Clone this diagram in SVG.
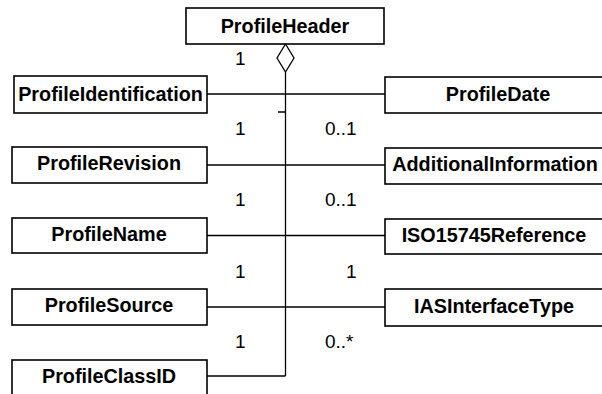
<svg xmlns="http://www.w3.org/2000/svg" width="602" height="394" viewBox="0 0 602 394">
<style>
.box{fill:#fff;stroke:#000;stroke-width:1.6}
.t{font-family:"Liberation Sans",Arial,sans-serif;font-weight:bold;font-size:19.8px;text-anchor:middle;fill:#000}
.m{font-family:"Liberation Sans",Arial,sans-serif;font-size:19px;fill:#000}
.ln{stroke:#000;stroke-width:1.3;fill:none}
</style>
<rect width="602" height="394" fill="#fff"/>
<g id="connectors">
<path class="ln" d="M285.5 72 V376 M207 94 H385 M207 165 H385 M207 235.5 H385 M207 307 H385 M207 376 H285.5 M278 112 H285.5"/>
<polygon points="285.5,44 294,58 285.5,72 277,58" fill="#fff" stroke="#000" stroke-width="1.3"/>
<text class="m" x="235" y="65">1</text>
<text class="m" x="235" y="135">1</text>
<text class="m" x="325" y="135">0..1</text>
<text class="m" x="235" y="206">1</text>
<text class="m" x="325" y="206">0..1</text>
<text class="m" x="235" y="278">1</text>
<text class="m" x="346" y="278">1</text>
<text class="m" x="235" y="348">1</text>
<text class="m" x="325" y="348">0..*</text>
</g>
<g id="ProfileHeader"><rect class="box" x="186" y="8" width="198" height="36"/><text class="t" x="285" y="33">ProfileHeader</text></g>
<g id="ProfileIdentification"><rect class="box" x="14" y="76" width="193" height="37"/><text class="t" x="110.5" y="100.5">ProfileIdentification</text></g>
<g id="ProfileRevision"><rect class="box" x="12" y="147" width="195" height="36"/><text class="t" x="109" y="170">ProfileRevision</text></g>
<g id="ProfileName"><rect class="box" x="12" y="218" width="195" height="35"/><text class="t" x="109" y="241">ProfileName</text></g>
<g id="ProfileSource"><rect class="box" x="12" y="289" width="195" height="36"/><text class="t" x="109" y="312">ProfileSource</text></g>
<g id="ProfileClassID"><rect class="box" x="12" y="360" width="195" height="40"/><text class="t" x="109" y="383">ProfileClassID</text></g>
<g id="ProfileDate"><rect class="box" x="385" y="77" width="222" height="36"/><text class="t" x="498" y="101">ProfileDate</text></g>
<g id="AdditionalInformation"><rect class="box" x="385" y="148" width="222" height="36"/><text class="t" x="495" y="171">AdditionalInformation</text></g>
<g id="ISO15745Reference"><rect class="box" x="385" y="219" width="222" height="35"/><text class="t" x="494" y="242">ISO15745Reference</text></g>
<g id="IASInterfaceType"><rect class="box" x="385" y="289" width="222" height="37"/><text class="t" x="494" y="313">IASInterfaceType</text></g>
</svg>
